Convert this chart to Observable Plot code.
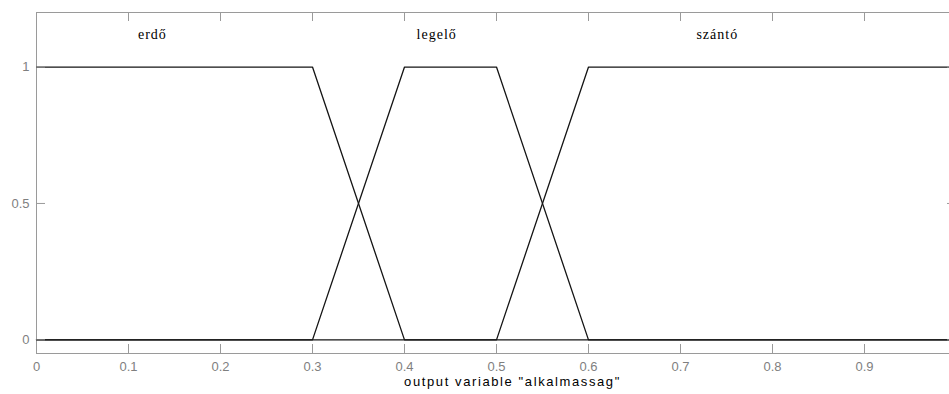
<!DOCTYPE html>
<html>
<head>
<meta charset="utf-8">
<script src="https://cdn.jsdelivr.net/npm/d3@7"></script>
<script src="https://cdn.jsdelivr.net/npm/@observablehq/plot@0.6"></script>
<style>
  html, body { margin: 0; padding: 0; background: #fff; overflow: hidden; }
</style>
</head>
<body>
<div id="chart"></div>
<script>
// Membership functions of the output variable "alkalmassag"
const mfNames = ["erdő", "legelő", "szántó"];
const erdoX = [0, 0.3, 0.4, 1];
const erdoY = [1, 1, 0, 0];
const legeloX = [0, 0.3, 0.4, 0.5, 0.6, 1];
const legeloY = [0, 0, 1, 1, 0, 0];
const szantoX = [0, 0.5, 0.6, 1];
const szantoY = [0, 0, 1, 1];

// Name label positions (near the top of the axes)
const labelX = [0.126, 0.435, 0.74];
const labelY = [1.12, 1.12, 1.12];

// Axis ticks
const xTicks = [0, 0.1, 0.2, 0.3, 0.4, 0.5, 0.6, 0.7, 0.8, 0.9, 1];
const xTickLabels = ["0", "0.1", "0.2", "0.3", "0.4", "0.5", "0.6", "0.7", "0.8", "0.9", "1"];
const yTicks = [0, 0.5, 1];
const yTickLabels = ["0", "0.5", "1"];
const xTitle = 'output variable "alkalmassag"';

const W = 949, H = 394;
const mT = 12, mB = 41, mL = 36, mR = -7;
const innerH = H - mT - mB;
const innerW = W - mL - mR;
const tick = 9;
const axisGray = "#9a9a9a";
const labelGray = "#7f7f7f";
const lineColor = "#141414";

const mfLine = (xs, ys) =>
  Plot.line(xs.map((x, i) => ({x, y: ys[i]})), {x: "x", y: "y", stroke: lineColor, strokeWidth: 1.3});

const svg = Plot.plot({
  width: W,
  height: H,
  marginTop: mT,
  marginBottom: mB,
  marginLeft: mL,
  marginRight: mR,
  style: {fontFamily: "'Liberation Sans', Arial, sans-serif", fontSize: "13px", overflow: "hidden", background: "#fff"},
  x: {domain: [0, 1]},
  y: {domain: [-0.05, 1.2]},
  marks: [
    Plot.frame({stroke: axisGray}),
    mfLine(erdoX, erdoY),
    mfLine(legeloX, legeloY),
    mfLine(szantoX, szantoY),
    // inward tick marks on all four sides
    Plot.ruleX(xTicks, {x: d => d, insetTop: innerH - tick, stroke: axisGray}),
    Plot.ruleX(xTicks, {x: d => d, insetBottom: innerH - tick, stroke: axisGray}),
    Plot.ruleY(yTicks, {y: d => d, insetRight: innerW - tick, stroke: axisGray}),
    Plot.ruleY(yTicks, {y: d => d, insetLeft: innerW - tick, stroke: axisGray}),
    Plot.axisX({ticks: xTicks.slice(0, -1), tickSize: 0, tickPadding: 8, label: null,
      tickFormat: (d) => xTickLabels[xTicks.indexOf(d)], fill: labelGray}),
    Plot.axisY({ticks: yTicks, tickSize: 0, tickPadding: 7, label: null,
      tickFormat: (d) => yTickLabels[yTicks.indexOf(d)], fill: labelGray}),
    Plot.text(mfNames, {x: (d, i) => labelX[i], y: (d, i) => labelY[i], text: d => d,
      fontFamily: "'Liberation Serif', 'Times New Roman', serif", fontSize: 14, fill: "#000"}),
    Plot.text([xTitle], {frameAnchor: "bottom", lineAnchor: "middle", dy: 28, dx: 16,
      text: d => d, fill: "#000", fontSize: 13})
  ]
});

// Letter spacing for the label texts
d3.select(svg).selectAll("g[aria-label='text'] text").each(function() {
  const t = d3.select(this);
  if (t.text() === xTitle) t.style("letter-spacing", "1.6px");
  else t.style("letter-spacing", "1px");
});

document.getElementById("chart").appendChild(svg);
</script>
</body>
</html>
